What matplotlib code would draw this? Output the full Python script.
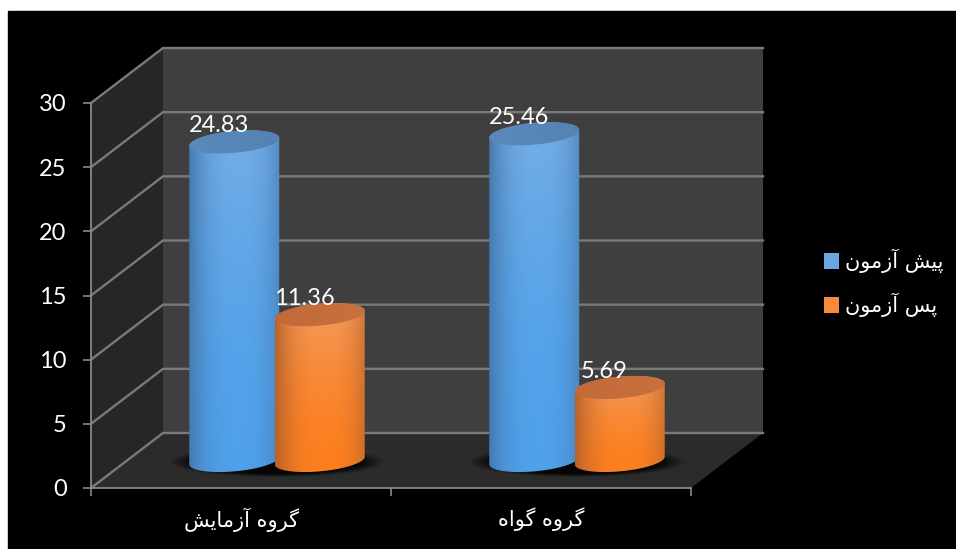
import numpy as np
import matplotlib
matplotlib.use("Agg")
import matplotlib.pyplot as plt
from matplotlib.patches import Polygon, Patch, Rectangle
from matplotlib.colors import to_rgb

# Chart data
groups = ["گروه آزمایش", "گروه گواه"]
series_names = ["پیش آزمون", "پس آزمون"]
pre_test = [24.83, 25.46]
post_test = [11.36, 5.69]
y_ticks = [0, 5, 10, 15, 20, 25, 30]

# Contextual glyph forms: isolated, final, initial, medial
FORMS = {
    "گ": "\uFB92\uFB93\uFB94\uFB95", "ه": "\uFEE9\uFEEA\uFEEB\uFEEC",
    "م": "\uFEE1\uFEE2\uFEE3\uFEE4", "ی": "\uFBFC\uFBFD\uFBFE\uFBFF",
    "ش": "\uFEB5\uFEB6\uFEB7\uFEB8", "پ": "\uFB56\uFB57\uFB58\uFB59",
    "س": "\uFEB1\uFEB2\uFEB3\uFEB4", "ن": "\uFEE5\uFEE6\uFEE7\uFEE8",
    "ر": "\uFEAD\uFEAE", "و": "\uFEED\uFEEE", "آ": "\uFE81\uFE82",
    "ز": "\uFEAF\uFEB0", "ا": "\uFE8D\uFE8E",
}


def shape(text):
    """Join Persian letters and put them in display order."""
    out = []
    for i, ch in enumerate(text):
        if ch not in FORMS:
            out.append(ch)
            continue
        prev = text[i - 1] if i else " "
        nxt = text[i + 1] if i + 1 < len(text) else " "
        joins_prev = prev in FORMS and len(FORMS[prev]) == 4
        joins_next = nxt in FORMS and len(FORMS[ch]) == 4
        form = 3 if joins_prev and joins_next else 1 if joins_prev else 2 if joins_next else 0
        out.append(FORMS[ch][form])
    return "".join(reversed(out))


W, H = 956, 549
fig = plt.figure(figsize=(W / 100, H / 100), dpi=100, facecolor="white")
fig.patches.append(Rectangle((8 / W, 0), 1, 1 - 11 / H, transform=fig.transFigure, color="black", zorder=-10))

ax = fig.add_axes([91 / W, (H - 488) / H, 600 / W, 385 / H])
ax.patch.set_visible(False)

# Oblique depth vector of the 3-D box, in data units
DX, DY = 0.24, 4.286
CYL_R, CYL_D = 0.1413, 0.21
GROUP_OFFSET = 0.1425
GRID = "#7a7a7a"


def face(points, color, z):
    ax.add_patch(Polygon(points, closed=True, facecolor=color, edgecolor="none", zorder=z, clip_on=False))


ymax = y_ticks[-1]
face([(0, 0), (DX, DY), (DX, ymax + DY), (0, ymax)], "#262626", 1)
face([(DX, DY), (2 + DX, DY), (2 + DX, ymax + DY), (DX, ymax + DY)], "#3f3f3f", 1)
face([(0, 0), (2, 0), (2 + DX, DY), (DX, DY)], "#2b2b2b", 1)

for v in y_ticks:
    ax.plot([0, DX, 2 + DX], [v, v + DY, v + DY], color=GRID, lw=1.7, zorder=2, clip_on=False,
            solid_joinstyle="miter")


def ring(cx, v, t):
    x = cx + 0.5 * DX + CYL_R * np.cos(t) + CYL_D * DX * np.sin(t)
    y = v + 0.5 * DY + CYL_D * DY * np.sin(t)
    return np.column_stack([x, y])


def shadow(cx):
    xs = np.linspace(cx + 0.5 * DX - 0.40, cx + 0.5 * DX + 0.40, 200)
    ys = np.linspace(0.5 * DY - 1.9, 0.5 * DY + 1.9, 60)
    gx, gy = np.meshgrid((xs - cx - 0.5 * DX) / 0.345, (ys - 0.5 * DY + 0.1) / 1.15)
    dist = np.sqrt(gx ** 2 + gy ** 2)
    alpha = np.clip((1.05 - dist) / 0.24, 0, 1)
    rgba = np.zeros(alpha.shape + (4,))
    rgba[..., 3] = alpha * 0.88
    ax.imshow(rgba, extent=(xs[0], xs[-1], ys[0], ys[-1]), origin="lower", aspect="auto",
              interpolation="bilinear", zorder=3)


def cylinder(cx, value, palette, z):
    edge, top_c, bottom_c, lid_a, lid_b = [np.array(to_rgb(c)) for c in palette]
    t0 = np.arctan2(CYL_D * DX, CYL_R)
    half_w = np.hypot(CYL_R, CYL_D * DX)
    low = ring(cx, 0, np.linspace(t0 + np.pi, t0 + 2 * np.pi, 80))
    up = ring(cx, value, np.linspace(t0, t0 + np.pi, 80))
    body = Polygon(np.vstack([low, up]), closed=True, transform=ax.transData, facecolor="none", edgecolor="none")
    ax.add_patch(body)

    # Side surface: highlight a little right of centre, darker towards both edges
    u = np.linspace(-1, 1, 90)
    v = np.linspace(0, 1, 40)
    shade = np.clip(1 - (np.abs(u - 0.08) / 1.08) ** 2.6, 0, 1)
    rows = np.empty((v.size, u.size, 3))
    for j, f in enumerate(v):
        light = bottom_c + (top_c - bottom_c) * f ** 1.7
        rows[j] = edge[None, :] + (light - edge)[None, :] * shade[:, None]
    y0, y1 = low[:, 1].min(), up[:, 1].max()
    cxp = cx + 0.5 * DX
    im = ax.imshow(rows, extent=(cxp - half_w, cxp + half_w, y0, y1), origin="lower",
                   aspect="auto", interpolation="bilinear", zorder=z)
    im.set_clip_path(body)

    # Lid
    lid_pts = ring(cx, value, np.linspace(0, 2 * np.pi, 160))
    lid = Polygon(lid_pts, closed=True, transform=ax.transData, facecolor="none", edgecolor="none")
    ax.add_patch(lid)
    w = np.linspace(0, 1, 40)[:, None]
    lid_img = (lid_a + (lid_b - lid_a) * w)[None, :, :]
    im2 = ax.imshow(lid_img, extent=(cxp - half_w, cxp + half_w, y0, y1), origin="lower",
                    aspect="auto", interpolation="bilinear", zorder=z + 0.1)
    im2.set_clip_path(lid)


BLUE = ("#467ab0", "#74ade6", "#4fa1ea", "#5a89bb", "#5382b3")
ORANGE = ("#b8622a", "#f49b5f", "#fd7f1e", "#c26b39", "#c9713d")

for i, (a, b) in enumerate(zip(pre_test, post_test)):
    center = i + 0.5
    shadow(center)
    cylinder(center - GROUP_OFFSET, a, BLUE, 4)
    cylinder(center + GROUP_OFFSET, b, ORANGE, 5)
    for cx, val in ((center - GROUP_OFFSET, a), (center + GROUP_OFFSET, b)):
        ax.annotate(f"{val:.2f}", xy=(cx + 0.5 * DX, val + 0.5 * DY), xytext=(-11, 11.5),
                    textcoords="offset points", ha="center", va="center", color="white",
                    fontsize=17, family="Lato", zorder=8)

ax.set_xlim(0, 2)
ax.set_ylim(0, ymax)

# Axes, ticks and labels
for name, spine in ax.spines.items():
    spine.set_visible(name in ("left", "bottom"))
    spine.set_color("#8a8a8a")
    spine.set_linewidth(1.3)
    spine.set_zorder(6)
ax.set_yticks(y_ticks)
ax.set_yticklabels([str(v) for v in y_ticks], family="Lato", fontsize=17, color="white")
ax.set_xticks([0, 1, 2])
ax.set_xticklabels([])
ax.set_xticks([0.5, 1.5], minor=True)
ax.set_xticklabels([shape(g) for g in groups], minor=True, family="DejaVu Sans", fontsize=15, color="white")
ax.tick_params(axis="both", which="major", length=5.5, width=1.2, color="#8a8a8a", pad=12)
ax.tick_params(axis="x", which="minor", length=0, pad=14)

# Legend
handles = [Patch(facecolor="#6aa6e2", edgecolor="none"), Patch(facecolor="#f58a3e", edgecolor="none")]
leg = fig.legend(handles, [shape(s) for s in series_names], loc="center left",
                 bbox_to_anchor=(807 / W, (H - 283) / H), frameon=False, labelcolor="white",
                 prop={"family": "DejaVu Sans", "size": 15}, handlelength=0.72, handleheight=0.78,
                 handletextpad=0.3, labelspacing=0.95, borderpad=0.3)

fig.savefig("out.png", dpi=100, facecolor="white")
